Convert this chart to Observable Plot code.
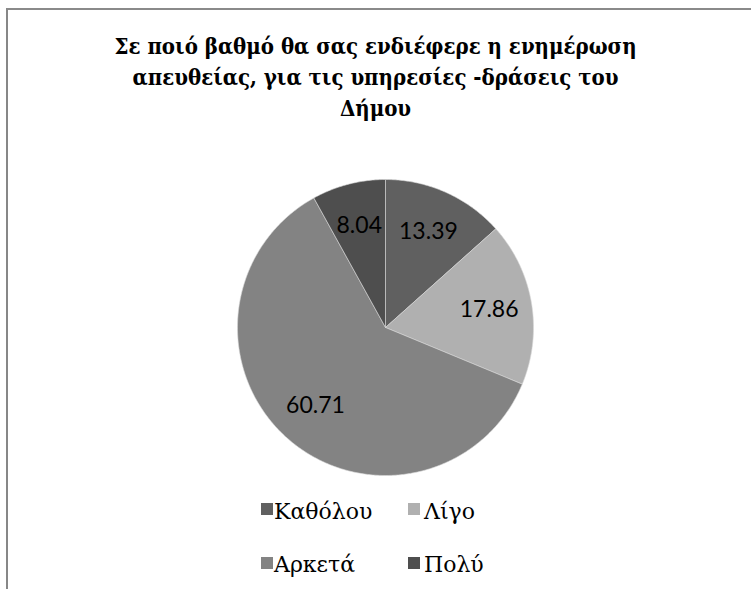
<!DOCTYPE html>
<html>
<head>
<meta charset="utf-8">
<script src="https://cdn.jsdelivr.net/npm/d3@7"></script>
<script src="https://cdn.jsdelivr.net/npm/@observablehq/plot@0.6"></script>
<style>
  html, body { margin: 0; padding: 0; background: #fff; }
  #frame { position: relative; width: 751px; height: 589px; overflow: hidden; background: #fff; }
  #border { position: absolute; left: 6px; top: 8px; width: 800px; height: 700px; border-left: 2px solid #878787; border-top: 2px solid #8a8a8a; box-sizing: border-box; }
  #title { position: absolute; left: 0; width: 751px; top: 31px; text-align: center; font-family: "DejaVu Serif", serif; font-stretch: condensed; font-weight: bold; font-size: 22px; line-height: 31px; color: #000; }
  #chart { position: absolute; left: 0; top: 0; }
  .leg { position: absolute; font-family: "DejaVu Serif", serif; font-size: 22px; line-height: 24px; color: #000; white-space: nowrap; }
  .sw { position: absolute; width: 12px; height: 12px; }
</style>
</head>
<body>
<div id="frame">
  <div id="border"></div>
  <div id="chart"></div>
  <div id="title"></div>
  <div id="legend"></div>
</div>
<script>
const titleLines = ["Σε ποιό βαθμό θα σας ενδιέφερε η ενημέρωση", "απευθείας, για τις υπηρεσίες -δράσεις του", "Δήμου"];
const categories = ["Καθόλου", "Λίγο", "Αρκετά", "Πολύ"];
const values = [13.39, 17.86, 60.71, 8.04];
const labels = ["13.39", "17.86", "60.71", "8.04"];
const colors = ["#606060", "#b0b0b0", "#838383", "#4e4e4e"];

document.getElementById("title").innerHTML = titleLines.join("<br>");

// pie angles (clockwise from 12 o'clock)
const arcs = d3.pie().sort(null).value(d => d.value)(categories.map((c, i) => ({cat: c, value: values[i], label: labels[i]})));
const pts = [];
const lbls = [];
for (const a of arcs) {
  const n = Math.max(4, Math.ceil((a.endAngle - a.startAngle) / 0.01));
  pts.push({cat: a.data.cat, x: 0, y: 0});
  for (let k = 0; k <= n; k++) {
    const t = a.startAngle + (a.endAngle - a.startAngle) * k / n;
    pts.push({cat: a.data.cat, x: Math.sin(t), y: Math.cos(t)});
  }
  pts.push({cat: a.data.cat, x: 0, y: 0});
  const m = (a.startAngle + a.endAngle) / 2;
  lbls.push({x: 0.71 * Math.sin(m), y: 0.71 * Math.cos(m), label: a.data.label});
}

const plot = Plot.plot({
  width: 751,
  height: 589,
  marginLeft: 237,
  marginRight: 218,
  marginTop: 179,
  marginBottom: 114,
  x: {domain: [-1, 1], axis: null},
  y: {domain: [-1, 1], axis: null},
  color: {domain: categories, range: colors},
  style: {background: "transparent", overflow: "visible"},
  marks: [
    Plot.line(pts, {x: "x", y: "y", z: "cat", fill: "cat", stroke: "#d9d9d9", strokeWidth: 0.6, curve: "linear"}),
    Plot.text(lbls, {x: "x", y: "y", text: "label", fontSize: 23, fontFamily: "Lato, sans-serif", fill: "#000"})
  ]
});
document.getElementById("chart").appendChild(plot);

// legend 2x2
const legPos = [
  {sx: 261, sy: 503, tx: 274, ty: 500},
  {sx: 408, sy: 503, tx: 424, ty: 500},
  {sx: 261, sy: 557, tx: 274, ty: 553},
  {sx: 408, sy: 557, tx: 424, ty: 553}
];
const leg = document.getElementById("legend");
categories.forEach((c, i) => {
  const p = legPos[i];
  const s = document.createElement("div");
  s.className = "sw"; s.style.left = p.sx + "px"; s.style.top = p.sy + "px"; s.style.background = colors[i];
  leg.appendChild(s);
  const t = document.createElement("div");
  t.className = "leg"; t.style.left = p.tx + "px"; t.style.top = p.ty + "px"; t.textContent = c;
  leg.appendChild(t);
});
</script>
</body>
</html>
